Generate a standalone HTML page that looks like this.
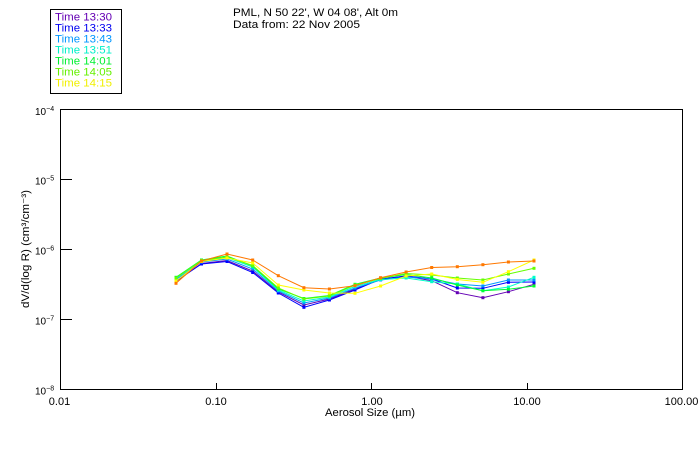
<!DOCTYPE html>
<html><head><meta charset="utf-8"><style>
html,body{margin:0;padding:0;background:#fff;}
svg{display:block;}
text{font-family:"Liberation Sans",sans-serif;}
</style></head><body>
<svg width="700" height="450" viewBox="0 0 700 450" xmlns="http://www.w3.org/2000/svg">
<defs>
<marker id="m1" markerUnits="userSpaceOnUse" markerWidth="4" markerHeight="4" refX="2" refY="2" viewBox="0 0 4 4"><rect x="0.5" y="0.5" width="3" height="3" fill="#6400b4"/></marker>
<marker id="m2" markerUnits="userSpaceOnUse" markerWidth="4" markerHeight="4" refX="2" refY="2" viewBox="0 0 4 4"><rect x="0.5" y="0.5" width="3" height="3" fill="#0000ff"/></marker>
<marker id="m3" markerUnits="userSpaceOnUse" markerWidth="4" markerHeight="4" refX="2" refY="2" viewBox="0 0 4 4"><rect x="0.5" y="0.5" width="3" height="3" fill="#0096ff"/></marker>
<marker id="m4" markerUnits="userSpaceOnUse" markerWidth="4" markerHeight="4" refX="2" refY="2" viewBox="0 0 4 4"><rect x="0.5" y="0.5" width="3" height="3" fill="#00ffc8"/></marker>
<marker id="m5" markerUnits="userSpaceOnUse" markerWidth="4" markerHeight="4" refX="2" refY="2" viewBox="0 0 4 4"><rect x="0.5" y="0.5" width="3" height="3" fill="#00ff32"/></marker>
<marker id="m6" markerUnits="userSpaceOnUse" markerWidth="4" markerHeight="4" refX="2" refY="2" viewBox="0 0 4 4"><rect x="0.5" y="0.5" width="3" height="3" fill="#64ff00"/></marker>
<marker id="m7" markerUnits="userSpaceOnUse" markerWidth="4" markerHeight="4" refX="2" refY="2" viewBox="0 0 4 4"><rect x="0.5" y="0.5" width="3" height="3" fill="#ffff00"/></marker>
<marker id="m8" markerUnits="userSpaceOnUse" markerWidth="4" markerHeight="4" refX="2" refY="2" viewBox="0 0 4 4"><rect x="0.5" y="0.5" width="3" height="3" fill="#ff7800"/></marker>
</defs>
<rect width="700" height="450" fill="#fff"/>
<!-- legend -->
<rect x="50.5" y="9.5" width="71" height="84" fill="none" stroke="#000" stroke-width="1"/>
<g font-size="11">
<text x="55" y="20.5" fill="#6400b4" textLength="57" lengthAdjust="spacingAndGlyphs">Time 13:30</text>
<text x="55" y="31.5" fill="#0000f0" textLength="57" lengthAdjust="spacingAndGlyphs">Time 13:33</text>
<text x="55" y="42.5" fill="#0096ff" textLength="57" lengthAdjust="spacingAndGlyphs">Time 13:43</text>
<text x="55" y="53.5" fill="#00f0c8" textLength="57" lengthAdjust="spacingAndGlyphs">Time 13:51</text>
<text x="55" y="64.5" fill="#00f032" textLength="57" lengthAdjust="spacingAndGlyphs">Time 14:01</text>
<text x="55" y="75.5" fill="#64f000" textLength="57" lengthAdjust="spacingAndGlyphs">Time 14:05</text>
<text x="55" y="86.5" fill="#f0f000" textLength="57" lengthAdjust="spacingAndGlyphs">Time 14:15</text>
</g>
<!-- title -->
<g font-size="11" fill="#000">
<text x="233" y="16" textLength="165" lengthAdjust="spacingAndGlyphs">PML, N 50 22', W 04 08', Alt 0m</text>
<text x="233" y="28" textLength="127" lengthAdjust="spacingAndGlyphs">Data from: 22 Nov 2005</text>
</g>
<!-- frame -->
<g stroke="#000" stroke-width="1" fill="none" shape-rendering="crispEdges">
<rect x="60.5" y="109.5" width="622" height="280"/>
<line x1="60" y1="179.5" x2="72" y2="179.5"/>
<line x1="60" y1="249.5" x2="72" y2="249.5"/>
<line x1="60" y1="319.5" x2="72" y2="319.5"/>
<line x1="216.5" y1="383" x2="216.5" y2="389"/>
<line x1="371.5" y1="383" x2="371.5" y2="389"/>
<line x1="527.5" y1="383" x2="527.5" y2="389"/>
</g>
<!-- y labels -->
<g font-size="10" fill="#000">
<text x="35" y="115">10<tspan font-size="7" dy="-4">−4</tspan></text>
<text x="35" y="184.5">10<tspan font-size="7" dy="-4">−5</tspan></text>
<text x="35" y="254.5">10<tspan font-size="7" dy="-4">−6</tspan></text>
<text x="35" y="324.5">10<tspan font-size="7" dy="-4">−7</tspan></text>
<text x="35" y="394.5">10<tspan font-size="7" dy="-4">−8</tspan></text>
</g>
<!-- x labels -->
<g font-size="11" fill="#000" text-anchor="middle">
<text x="59.5" y="405">0.01</text>
<text x="216" y="405">0.10</text>
<text x="372" y="405">1.00</text>
<text x="527" y="405">10.00</text>
<text x="681.5" y="405">100.00</text>
</g>
<text x="325" y="416" font-size="11" fill="#000" textLength="90" lengthAdjust="spacingAndGlyphs">Aerosol Size (µm)</text>
<text transform="translate(29,249) rotate(-90)" font-size="11" fill="#000" text-anchor="middle" textLength="118" lengthAdjust="spacingAndGlyphs">dV/d(log R) (cm³/cm⁻³)</text>
<!-- series -->
<g fill="none" stroke-width="1">
<polyline stroke="#6400b4" marker-start="url(#m1)" marker-mid="url(#m1)" marker-end="url(#m1)" points="176,281.5 201.5,263.5 227,260.5 252.7,271 278.3,292 303.9,305 329.4,299 355,289 380.6,279.5 406.1,276 431.7,280.7 457.3,292.7 482.9,297.7 508.4,291.7 534,284.3"/>
<polyline stroke="#0000ff" marker-start="url(#m2)" marker-mid="url(#m2)" marker-end="url(#m2)" points="176,281 201.5,264 227,261.5 252.7,272.5 278.3,293 303.9,307.3 329.4,300 355,290 380.6,279 406.1,276 431.7,279 457.3,288 482.9,288.3 508.4,282.3 534,282"/>
<polyline stroke="#0096ff" marker-start="url(#m3)" marker-mid="url(#m3)" marker-end="url(#m3)" points="176,279.5 201.5,262 227,259 252.7,269 278.3,291 303.9,303 329.4,298 355,288 380.6,280 406.1,277 431.7,279 457.3,284 482.9,286 508.4,280 534,280"/>
<polyline stroke="#00ffc8" marker-start="url(#m4)" marker-mid="url(#m4)" marker-end="url(#m4)" points="176,278.5 201.5,261 227,257.5 252.7,267 278.3,290 303.9,301 329.4,297 355,286.5 380.6,279.5 406.1,278 431.7,281.7 457.3,284 482.9,290.7 508.4,287 534,277.3"/>
<polyline stroke="#00ff32" marker-start="url(#m5)" marker-mid="url(#m5)" marker-end="url(#m5)" points="176,277.3 201.5,260 227,256 252.7,266 278.3,289 303.9,298.5 329.4,295.5 355,284.3 380.6,278 406.1,274.5 431.7,278 457.3,285 482.9,290.7 508.4,289.3 534,286"/>
<polyline stroke="#64ff00" marker-start="url(#m6)" marker-mid="url(#m6)" marker-end="url(#m6)" points="176,278 201.5,260.5 227,257 252.7,265.5 278.3,288 303.9,299 329.4,296 355,285 380.6,278.5 406.1,273.5 431.7,275 457.3,278 482.9,280 508.4,274 534,268.3"/>
<polyline stroke="#ffff00" marker-start="url(#m7)" marker-mid="url(#m7)" marker-end="url(#m7)" points="176,281 201.5,261.5 227,258 252.7,263 278.3,285 303.9,290 329.4,293 355,293.3 380.6,286 406.1,276 431.7,274 457.3,279.5 482.9,282.3 508.4,271.7 534,260"/>
<polyline stroke="#ff7800" marker-start="url(#m8)" marker-mid="url(#m8)" marker-end="url(#m8)" points="176,283.3 201.5,261 227,254 252.7,260 278.3,275.7 303.9,287.7 329.4,289 355,285.7 380.6,277.7 406.1,272 431.7,267.5 457.3,266.7 482.9,264.7 508.4,262 534,261"/>
</g>
</svg>
</body></html>
